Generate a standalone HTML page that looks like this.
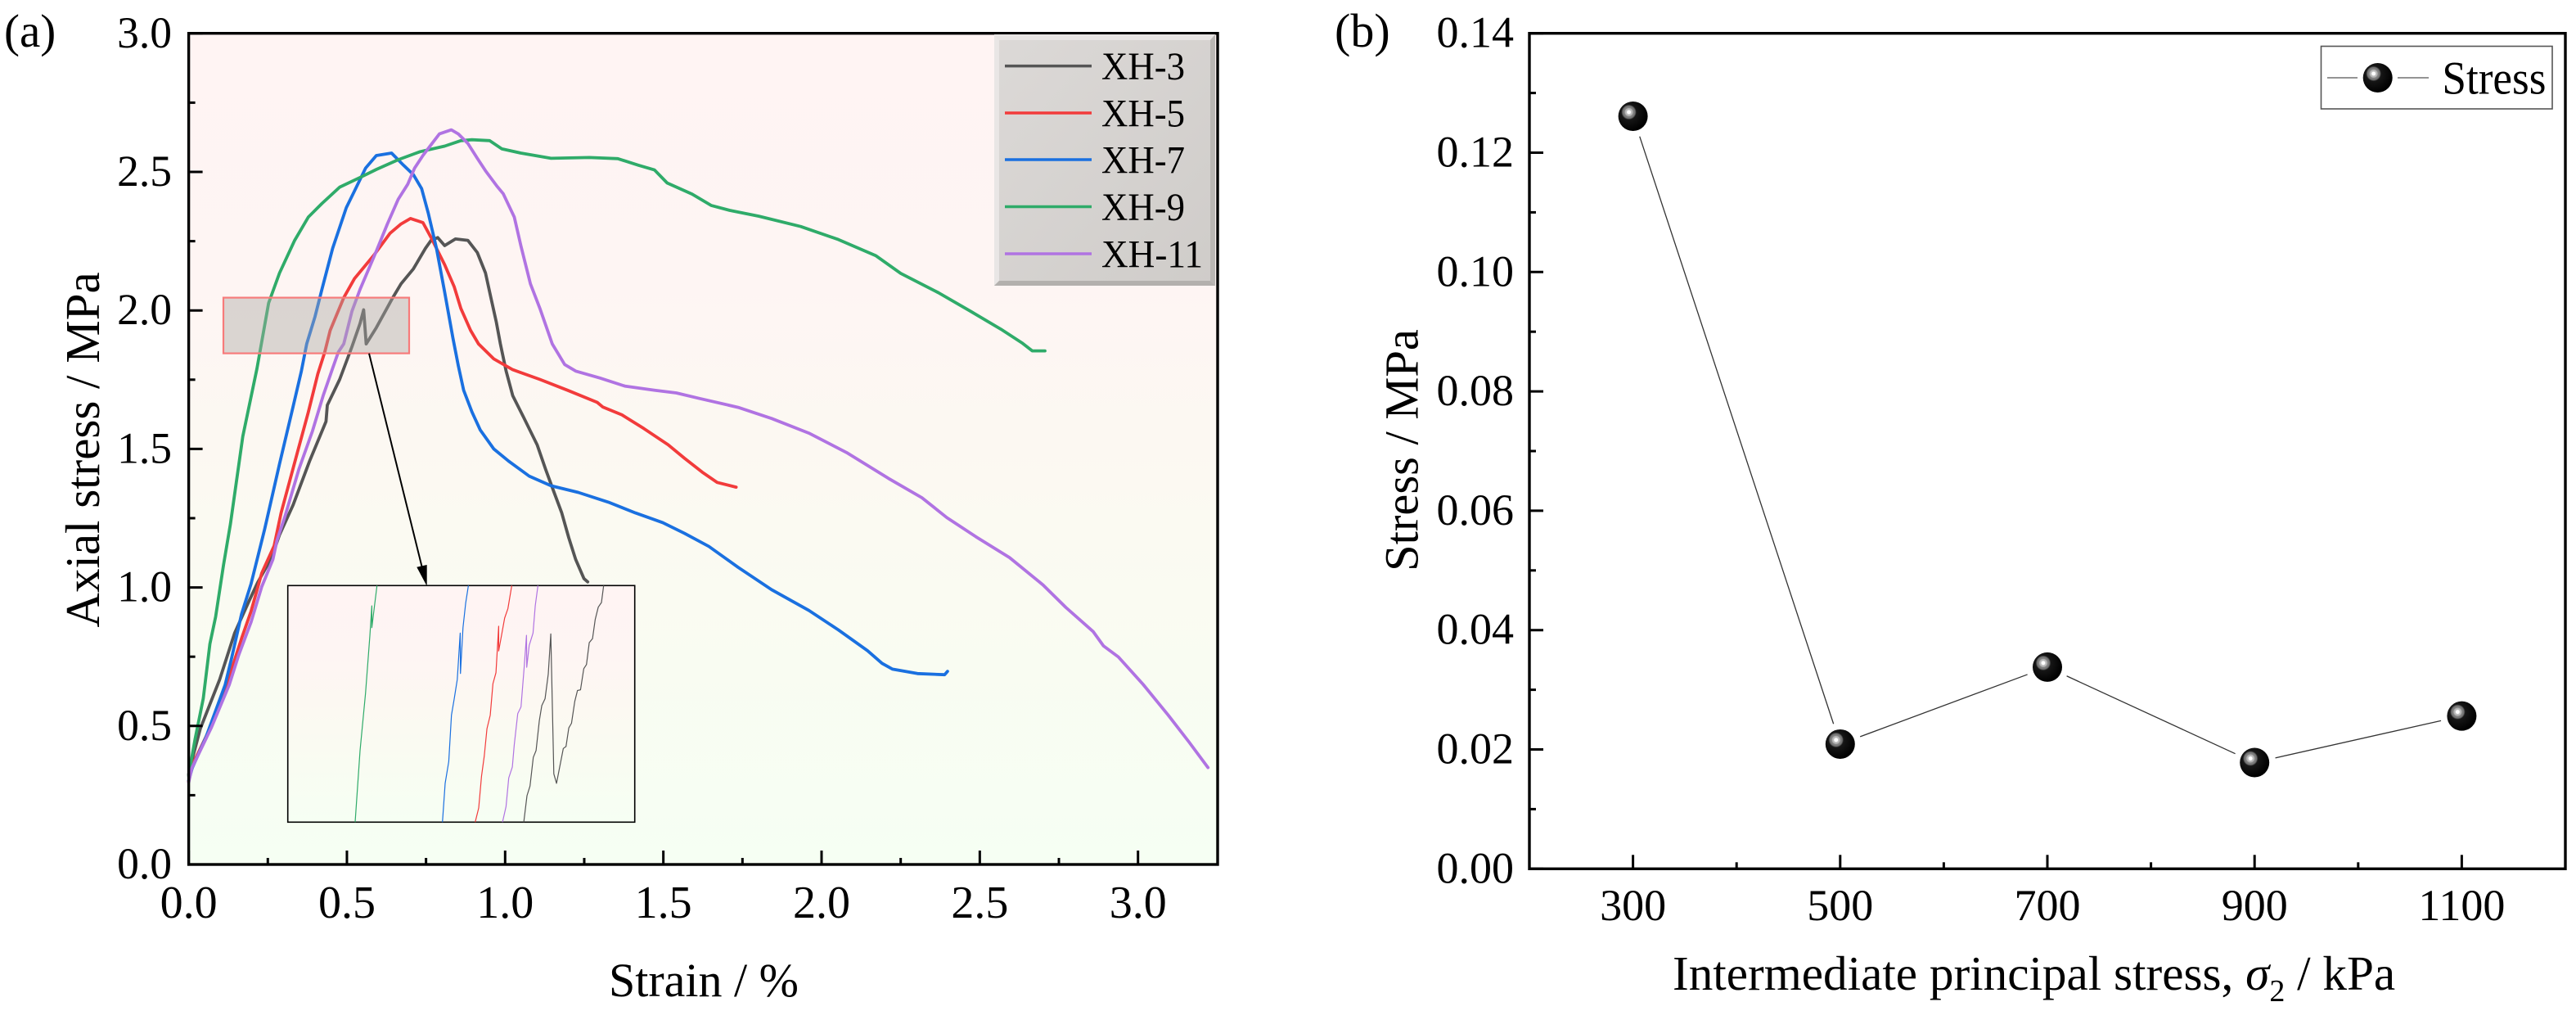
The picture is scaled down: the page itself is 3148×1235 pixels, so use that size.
<!DOCTYPE html>
<html lang="en">
<head>
<meta charset="utf-8">
<title>Axial stress and stress curves</title>
<style>
html,body{margin:0;padding:0;background:#fff;width:3148px;height:1235px;overflow:hidden}
svg{display:block;font-family:"Liberation Serif",serif;fill:#000}
</style>
</head>
<body>
<svg id="figure" xmlns="http://www.w3.org/2000/svg" width="3148" height="1235" viewBox="0 0 3148 1235">
  <defs>
    <linearGradient id="plotBg" x1="0" y1="0" x2="0" y2="1">
      <stop offset="0" stop-color="#fff4f3"/>
      <stop offset="0.3" stop-color="#fef5f3"/>
      <stop offset="0.6" stop-color="#fbfaf2"/>
      <stop offset="1" stop-color="#f6fff3"/>
    </linearGradient>
    <linearGradient id="legendBg" x1="0" y1="0" x2="1" y2="1">
      <stop offset="0" stop-color="#dcd9d7"/>
      <stop offset="1" stop-color="#cfccc9"/>
    </linearGradient>
    <radialGradient id="ball" cx="0.36" cy="0.36" r="0.64">
      <stop offset="0" stop-color="#fff"/>
      <stop offset="0.09" stop-color="#fff"/>
      <stop offset="0.12" stop-color="#c4c4c4"/>
      <stop offset="0.2" stop-color="#b0b0b0"/>
      <stop offset="0.23" stop-color="#868686"/>
      <stop offset="0.33" stop-color="#707070"/>
      <stop offset="0.4" stop-color="#161616"/>
      <stop offset="1" stop-color="#000"/>
    </radialGradient>
  </defs>

  <text x="5" y="57" font-size="57">(a)</text>
  <text x="1631" y="57" font-size="58">(b)</text>

  <rect x="231" y="41" width="1257" height="1015" fill="url(#plotBg)"/>
  <g id="a-series"></g>
  <rect x="273" y="363.6" width="227" height="68" fill="#aaa6a2" fill-opacity="0.42" stroke="#f77b7b" stroke-width="2.2"/>
  <line x1="451" y1="431.7" x2="515.5" y2="692" stroke="#000" stroke-width="2"/>
  <polygon points="521.7,716 509.3,692.7 521.7,690" fill="#000"/>
  <rect x="351.7" y="715.3" width="424" height="289" fill="url(#plotBg)" stroke="#000" stroke-width="1.6"/>
  <g id="a-inset"></g>
  <g id="a-axes"></g>

  <g>
    <rect x="1215" y="42" width="270" height="307" fill="url(#legendBg)"/>
    <polygon points="1215,42 1485,42 1479,49 1221,49" fill="#e7e4e3"/>
    <polygon points="1215,42 1221,49 1221,343 1215,349" fill="#e9e6e5"/>
    <polygon points="1215,349 1221,343 1479,343 1485,349" fill="#b3b0ad"/>
    <polygon points="1485,42 1485,349 1479,343 1479,49" fill="#b9b6b3"/>
    <line x1="1228" x2="1334" y1="80.6" y2="80.6" stroke="#555" stroke-width="3.5"/>
    <line x1="1228" x2="1334" y1="138" y2="138" stroke="#f23b3b" stroke-width="3.5"/>
    <line x1="1228" x2="1334" y1="195" y2="195" stroke="#1a70e0" stroke-width="3.5"/>
    <line x1="1228" x2="1334" y1="252.5" y2="252.5" stroke="#2fab69" stroke-width="3.5"/>
    <line x1="1228" x2="1334" y1="310" y2="310" stroke="#b073e2" stroke-width="3.5"/>
    <text x="1346" y="97" font-size="48" textLength="102" lengthAdjust="spacingAndGlyphs">XH-3</text>
    <text x="1346" y="154.5" font-size="48" textLength="102" lengthAdjust="spacingAndGlyphs">XH-5</text>
    <text x="1346" y="211.5" font-size="48" textLength="102" lengthAdjust="spacingAndGlyphs">XH-7</text>
    <text x="1346" y="269" font-size="48" textLength="102" lengthAdjust="spacingAndGlyphs">XH-9</text>
    <text x="1346" y="326.5" font-size="48" textLength="124" lengthAdjust="spacingAndGlyphs">XH-11</text>
  </g>

  <text x="860" y="1217" font-size="58" text-anchor="middle">Strain / %</text>
  <text transform="translate(121,549.5) rotate(-90)" font-size="59" text-anchor="middle">Axial stress / MPa</text>

  <g id="b-series"></g>
  <g id="b-axes"></g>

  <g>
    <rect x="2836.5" y="56.5" width="282.5" height="76.5" fill="#fff" stroke="#555" stroke-width="1.6"/>
    <line x1="2844" x2="2881" y1="95" y2="95" stroke="#555" stroke-width="1.3"/>
    <line x1="2930" x2="2968" y1="95" y2="95" stroke="#555" stroke-width="1.3"/>
    <circle cx="2905.7" cy="95" r="18" fill="url(#ball)"/>
    <text x="2984.4" y="114.6" font-size="57" textLength="127" lengthAdjust="spacingAndGlyphs">Stress</text>
  </g>

  <text x="2044" y="1209" font-size="59.2">Intermediate principal stress, <tspan font-style="italic">σ</tspan><tspan dy="14" font-size="38">2</tspan><tspan dy="-14"> / kPa</tspan></text>
  <text transform="translate(1732.6,550) rotate(-90)" font-size="58.5" text-anchor="middle">Stress / MPa</text>
</svg>

<script>
/* ---------- Panel (a) data: [strain %, axial stress MPa] ---------- */
const xh3 = [[0,.326],[.007,.362],[.037,.491],[.098,.668],[.145,.835],[.192,.954],[.218,1.018],[.261,1.105],[.287,1.19],[.33,1.298],[.382,1.456],[.434,1.599],[.438,1.658],[.477,1.751],[.516,1.869],[.5415,1.953],[.553,2.002],[.561,1.879],[.593,1.938],[.645,2.046],[.671,2.096],[.71,2.15],[.748,2.224],[.766,2.253],[.787,2.263],[.809,2.234],[.843,2.258],[.882,2.253],[.912,2.209],[.938,2.135],[.955,2.046],[.972,1.958],[.985,1.879],[1.003,1.781],[1.024,1.692],[1.059,1.613],[1.101,1.515],[1.128,1.426],[1.153,1.348],[1.179,1.269],[1.201,1.18],[1.223,1.101],[1.249,1.032],[1.261,1.02]];
const xh5 = [[0,.3],[.007,.348],[.063,.481],[.128,.678],[.167,.816],[.197,.914],[.231,1.052],[.27,1.15],[.292,1.269],[.343,1.485],[.378,1.633],[.408,1.771],[.43,1.85],[.447,1.928],[.49,2.046],[.524,2.115],[.585,2.199],[.636,2.278],[.671,2.312],[.701,2.332],[.74,2.317],[.766,2.263],[.809,2.165],[.839,2.086],[.86,2.007],[.891,1.928],[.916,1.879],[.964,1.825],[1.024,1.786],[1.11,1.751],[1.197,1.712],[1.291,1.668],[1.309,1.651],[1.369,1.623],[1.438,1.574],[1.515,1.515],[1.567,1.466],[1.623,1.416],[1.67,1.379],[1.73,1.362]];
const xh7 = [[0,.303],[.011,.348],[.055,.461],[.115,.648],[.136,.747],[.167,.904],[.197,1.013],[.24,1.21],[.287,1.446],[.33,1.653],[.356,1.781],[.373,1.879],[.399,1.977],[.421,2.076],[.455,2.224],[.498,2.371],[.524,2.431],[.559,2.514],[.593,2.559],[.641,2.568],[.679,2.524],[.71,2.49],[.736,2.44],[.757,2.352],[.783,2.224],[.809,2.066],[.835,1.9],[.852,1.8],[.869,1.712],[.895,1.634],[.921,1.569],[.964,1.5],[1.011,1.456],[1.076,1.402],[1.145,1.367],[1.231,1.343],[1.326,1.308],[1.412,1.269],[1.498,1.234],[1.567,1.195],[1.644,1.148],[1.736,1.073],[1.842,.992],[1.96,.917],[2.053,.847],[2.145,.772],[2.191,.726],[2.224,.705],[2.303,.689],[2.389,.685],[2.398,.697]];
const xh9 = [[0,.32],[.003,.343],[.02,.451],[.046,.599],[.067,.796],[.085,.894],[.11,1.08],[.132,1.229],[.171,1.545],[.2157,1.79],[.2527,2.027],[.287,2.135],[.335,2.253],[.378,2.337],[.421,2.386],[.477,2.445],[.5415,2.48],[.593,2.509],[.662,2.544],[.731,2.573],[.809,2.593],[.86,2.613],[.895,2.616],[.951,2.613],[.99,2.583],[1.05,2.568],[1.145,2.549],[1.266,2.552],[1.356,2.548],[1.422,2.524],[1.472,2.507],[1.512,2.46],[1.591,2.42],[1.651,2.379],[1.71,2.361],[1.802,2.34],[1.934,2.303],[2.053,2.256],[2.171,2.198],[2.25,2.134],[2.369,2.064],[2.475,1.994],[2.567,1.932],[2.633,1.883],[2.666,1.854],[2.706,1.854]];
const xh11 = [[0,.297],[.01,.348],[.072,.495],[.128,.648],[.158,.756],[.197,.875],[.231,1.003],[.266,1.101],[.279,1.17],[.305,1.259],[.348,1.426],[.391,1.564],[.425,1.692],[.455,1.791],[.473,1.85],[.49,1.879],[.516,1.997],[.5415,2.076],[.593,2.214],[.628,2.312],[.662,2.401],[.692,2.455],[.714,2.514],[.74,2.559],[.766,2.598],[.792,2.637],[.83,2.652],[.852,2.637],[.882,2.603],[.912,2.549],[.938,2.504],[.973,2.45],[.994,2.421],[1.029,2.337],[1.05,2.233],[1.08,2.096],[1.11,2.007],[1.149,1.879],[1.188,1.805],[1.223,1.781],[1.3,1.756],[1.378,1.727],[1.473,1.712],[1.541,1.702],[1.615,1.682],[1.736,1.65],[1.842,1.61],[1.96,1.557],[2.079,1.487],[2.211,1.394],[2.317,1.324],[2.396,1.252],[2.488,1.183],[2.594,1.108],[2.7,1.009],[2.772,.928],[2.858,.841],[2.891,.789],[2.938,.749],[3.016,.65],[3.095,.54],[3.161,.442],[3.221,.35]];

/* ---------- Inset data (zoomed window of panel a) ---------- */
const insetXh3 = [[.5089,1.8453],[.5144,1.8677],[.5195,1.8759],[.525,1.9002],[.5297,1.906],[.5352,1.9315],[.5394,1.9442],[.5449,1.95],[.5504,1.9709],[.5546,2.005],[.5597,1.8863],[.5643,1.8782],[.5758,1.9078],[.5804,1.9095],[.5851,1.9252],[.5897,1.9292],[.5952,1.9477],[.5998,1.957],[.6049,1.9575],[.6104,1.9755],[.615,1.979],[.6197,1.9976],[.6252,2.001],[.6298,2.0173],[.6349,2.0277],[.6404,2.0316],[.6441,2.046]];
const insetXh5 = [[.4267,1.8453],[.4327,1.8573],[.4373,1.884],[.442,1.9014],[.4466,1.9246],[.4521,1.9361],[.4567,1.9628],[.4618,1.9721],[.4664,2.0115],[.4664,1.9906],[.4719,2.0057],[.4766,2.0184],[.4821,2.0265],[.4886,2.046]];
const insetXh7 = [[.3713,1.8453],[.3759,1.8782],[.3819,1.8967],[.3866,1.9361],[.3912,1.95],[.3963,1.9663],[.4013,2.0057],[.4018,1.9714],[.406,2.0103],[.4106,2.0312],[.4152,2.046]];
const insetXh9 = [[.2236,1.8453],[.2319,1.906],[.2412,1.9547],[.2485,2.0034],[.2518,2.0288],[.2518,2.0103],[.2605,2.046]];
const insetXh11 = [[.4729,1.8453],[.4789,1.8585],[.4835,1.8828],[.4895,1.8921],[.4927,1.9106],[.4987,1.9373],[.5043,1.9431],[.5098,1.9779],[.5135,2.0038],[.5139,1.9767],[.5181,1.9952],[.5246,2.0057],[.5283,2.0288],[.5329,2.046]];

/* ---------- Panel (a) ticks ---------- */
const aXTickValues = [0, 0.5, 1, 1.5, 2, 2.5, 3];
const aXTickLabels = ['0.0','0.5','1.0','1.5','2.0','2.5','3.0'];
const aXMinorValues = [0.25, 0.75, 1.25, 1.75, 2.25, 2.75];
const aYTickValues = [0, 0.5, 1, 1.5, 2, 2.5, 3];
const aYTickLabels = ['0.0','0.5','1.0','1.5','2.0','2.5','3.0'];
const aYMinorValues = [0.25, 0.75, 1.25, 1.75, 2.25, 2.75];

/* ---------- Panel (b) data ---------- */
const bCategories = [300, 500, 700, 900, 1100];
const bStress = [0.1261, 0.0209, 0.0338, 0.0178, 0.0256];
const bXTickLabels = ['300','500','700','900','1100'];
const bXMinorValues = [400, 600, 800, 1000];
const bYTickValues = [0, 0.02, 0.04, 0.06, 0.08, 0.10, 0.12, 0.14];
const bYTickLabels = ['0.00','0.02','0.04','0.06','0.08','0.10','0.12','0.14'];
const bYMinorValues = [0.01, 0.03, 0.05, 0.07, 0.09, 0.11, 0.13];

/* ---------- Axis functions ---------- */
const ax = v => 230.6 + v * 386.7;
const ay = v => 1056 - v * 338.4;
const ix = v => 351.7 + (v - 0.1096) / 0.5871 * 424;
const iy = v => 1004.3 - (v - 1.8453) / 0.2007 * 289;
const bx = v => 1869 + (v - 200) * 1.266;
const by = v => 1061.3 - v * 7290;

const NS = 'http://www.w3.org/2000/svg';
function mk(tag, parent, props) {
  const n = document.createElementNS(NS, tag);
  for (const k in props) n.setAttribute(k, props[k]);
  parent.appendChild(n);
  return n;
}
const slug = s => String(s).replace(/[^0-9a-z]+/gi, '-');

/* ---------- Panel (a) curves ---------- */
const aGroup = document.getElementById('a-series');
const insetGroup = document.getElementById('a-inset');
const curveNames = ['xh-3','xh-5','xh-7','xh-9','xh-11'];
const curveColors = ['#555555','#f23b3b','#1a70e0','#2fab69','#b073e2'];
const curveData = [xh3, xh5, xh7, xh9, xh11];
const insetData = [insetXh3, insetXh5, insetXh7, insetXh9, insetXh11];
curveData.forEach((pts, i) => {
  const line = mk('polyline', aGroup, {
    points: pts.map(p => ax(p[0]).toFixed(1) + ',' + ay(p[1]).toFixed(1)).join(' '),
    fill: 'none', stroke: curveColors[i], 'stroke-width': 3.8, 'stroke-linejoin': 'round', 'stroke-linecap': 'round'
  });
  
  
});
insetData.forEach((pts, i) => {
  const line = mk('polyline', insetGroup, {
    points: pts.map(p => ix(p[0]).toFixed(1) + ',' + iy(p[1]).toFixed(1)).join(' '),
    fill: 'none', stroke: curveColors[i], 'stroke-width': 1.2, 'stroke-linejoin': 'round'
  });
  
  
});

/* ---------- Axes ---------- */
function frame(group, name, l, t, r, b) {
  const f = mk('rect', group, { x: l, y: t, width: r - l, height: b - t, fill: 'none', stroke: '#000', 'stroke-width': 3.4 });
  
  
}
function yTick(group, prefix, x0, y, len) {
  const t = mk('line', group, { x1: x0, x2: x0 + len, y1: y, y2: y, stroke: '#000', 'stroke-width': 3 });
  
  
}
function xTick(group, prefix, x, y0, len) {
  const t = mk('line', group, { x1: x, x2: x, y1: y0, y2: y0 - len, stroke: '#000', 'stroke-width': 3 });
  
  
}
function label(group, name, text, x, y, size, anchor) {
  const t = mk('text', group, { x: x, y: y, 'font-size': size, 'text-anchor': anchor });
  t.textContent = text;
  
  
}

const aAxes = document.getElementById('a-axes');
frame(aAxes, 'plot-a-frame', 230.6, 40.7, 1488, 1056);
aYTickValues.forEach((v, i) => {
  yTick(aAxes, 'y-tick-a-' + slug(aYTickLabels[i]), 230.6, ay(v), 17);
  label(aAxes, 'y-tick-label-a-' + slug(aYTickLabels[i]), aYTickLabels[i], 210, ay(v) + 17, 53.5, 'end');
});
aYMinorValues.forEach(v => yTick(aAxes, 'y-minor-tick-a', 230.6, ay(v), 8));
aXTickValues.forEach((v, i) => {
  xTick(aAxes, 'x-tick-a-' + slug(aXTickLabels[i]), ax(v), 1056, 17);
  label(aAxes, 'x-tick-label-a-' + slug(aXTickLabels[i]), aXTickLabels[i], ax(v), 1121, 56, 'middle');
});
aXMinorValues.forEach(v => xTick(aAxes, 'x-minor-tick-a', ax(v), 1056, 8));

const bAxes = document.getElementById('b-axes');
frame(bAxes, 'plot-b-frame', 1869, 40.7, 3135, 1061.3);
bYTickValues.forEach((v, i) => {
  yTick(bAxes, 'y-tick-b-' + slug(bYTickLabels[i]), 1869, by(v), 17);
  label(bAxes, 'y-tick-label-b-' + slug(bYTickLabels[i]), bYTickLabels[i], 1850, by(v) + 17, 54, 'end');
});
bYMinorValues.forEach(v => yTick(bAxes, 'y-minor-tick-b', 1869, by(v), 8));
bCategories.forEach((c, i) => {
  xTick(bAxes, 'x-tick-b-' + bXTickLabels[i], bx(c), 1061.3, 17);
  label(bAxes, 'x-tick-label-b-' + bXTickLabels[i], bXTickLabels[i], bx(c), 1124, 54, 'middle');
});
bXMinorValues.forEach(v => xTick(bAxes, 'x-minor-tick-b', bx(v), 1061.3, 8));

/* ---------- Panel (b) series: gapped connecting line plus ball markers ---------- */
const bGroup = document.getElementById('b-series');
const GAP = 26;
for (let i = 0; i < bCategories.length - 1; i++) {
  const x1 = bx(bCategories[i]), y1 = by(bStress[i]);
  const x2 = bx(bCategories[i + 1]), y2 = by(bStress[i + 1]);
  const d = Math.hypot(x2 - x1, y2 - y1);
  const ux = (x2 - x1) / d, uy = (y2 - y1) / d;
  const seg = mk('line', bGroup, {
    x1: x1 + ux * GAP, y1: y1 + uy * GAP, x2: x2 - ux * GAP, y2: y2 - uy * GAP,
    stroke: '#333', 'stroke-width': 1.3
  });
  
  
}
bCategories.forEach((c, i) => {
  const m = mk('circle', bGroup, { cx: bx(c), cy: by(bStress[i]), r: 18, fill: 'url(#ball)' });
  
  
});
</script>
</body>
</html>
